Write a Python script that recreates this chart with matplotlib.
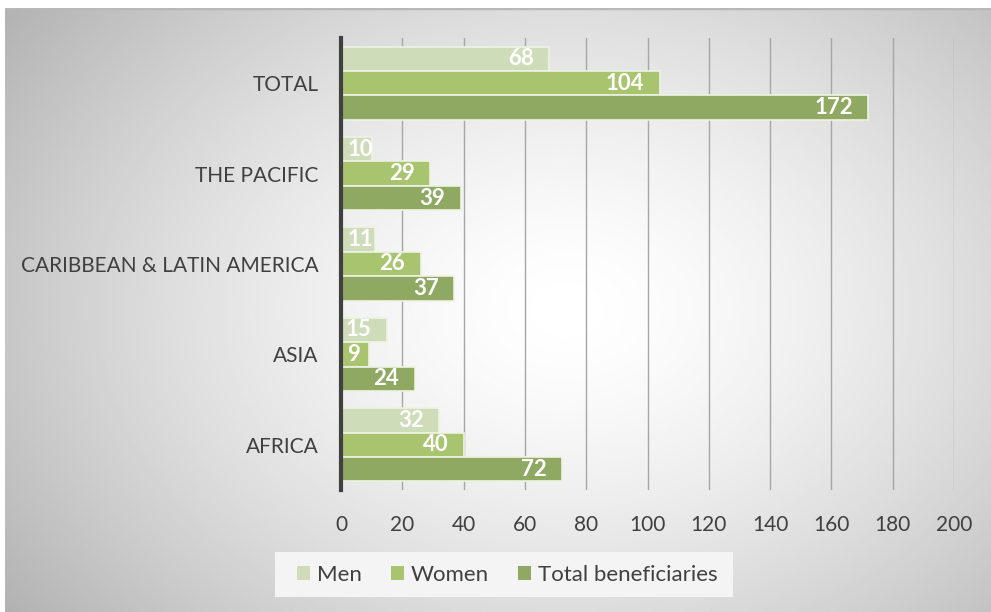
import numpy as np
import matplotlib.pyplot as plt
from matplotlib.patches import Rectangle

regions = ['AFRICA', 'ASIA', 'CARIBBEAN & LATIN AMERICA', 'THE PACIFIC', 'TOTAL']
men = [32, 15, 11, 10, 68]
women = [40, 9, 26, 29, 104]
total = [72, 24, 37, 39, 172]

series = ['Men', 'Women', 'Total beneficiaries']
colors = ['#cfdcb9', '#a9c46e', '#8fa862']
xticks = list(range(0, 201, 20))

plt.rcParams['font.family'] = ['Lato', 'DejaVu Sans']

W, H = 991, 612
fig = plt.figure(figsize=(W / 100, H / 100), dpi=100)
fig.patch.set_facecolor('white')

# soft radial background behind the chart
bg = fig.add_axes([5 / W, 0, 1 - 5 / W, 1 - 8 / H], zorder=-5)
gx, gy = np.meshgrid(np.linspace(0, 1, 400), np.linspace(0, 1, 250))
r = np.sqrt(((gx - 0.57) / 0.62) ** 2 + ((gy - 0.5) / 0.75) ** 2)
shade = 1 - 0.25 * np.clip(r, 0, 1.2) ** 1.5
bg.imshow(shade, cmap='gray', vmin=0, vmax=1, aspect='auto',
          extent=[0, 1, 0, 1], origin='upper')
bg.plot([0, 1], [1, 1], color='#b8b8b8', lw=2.5, transform=bg.transAxes)
bg.set_xlim(0, 1)
bg.set_ylim(0, 1)
bg.axis('off')

ax = fig.add_axes([341 / W, 1 - 490 / H, (954 - 341) / W, (490 - 38) / H])
ax.patch.set_alpha(0)

y = np.arange(len(regions))
h = 0.27
offsets = [h, 0, -h]
for vals, off, col, name in zip([men, women, total], offsets, colors, series):
    bars = ax.barh(y + off, vals, height=h, color=col, edgecolor='#eef3e4',
                   linewidth=1.2, label=name, zorder=3)
    for b, v in zip(bars, vals):
        # short bars: start the label at the base, the bar clips it
        if v < 12:
            tx, ha = 2, 'left'
        else:
            tx, ha = v - 5, 'right'
        t = ax.text(tx, b.get_y() + h / 2, str(v), ha=ha, va='center',
                    color='white', fontsize=16, fontweight='bold', zorder=4)
        t.set_clip_path(b)

ax.set_xlim(0, 200)
ax.set_ylim(-0.5, 4.5)
ax.set_xticks(xticks)
ax.set_yticks(y)
ax.set_yticklabels(regions)
ax.tick_params(axis='both', length=0, labelsize=15, colors='#404040')
ax.tick_params(axis='x', pad=18)
ax.tick_params(axis='y', pad=16)
ax.grid(axis='x', color='#a6a6a6', lw=1.0, zorder=1)
for s in ['top', 'right', 'bottom']:
    ax.spines[s].set_visible(False)
ax.spines['left'].set_color('#404040')
ax.spines['left'].set_linewidth(3)
ax.spines['left'].set_zorder(5)

# legend panel
fig.patches.append(Rectangle((275 / W, 1 - 597 / H), (733 - 275) / W, 45 / H,
                             transform=fig.transFigure, facecolor='#f4f4f4',
                             edgecolor='none', zorder=-1))
leg = fig.legend(loc='center', bbox_to_anchor=(507 / W, 1 - 575 / H), ncol=3,
                 frameon=False, fontsize=16, handlelength=0.6, handleheight=0.6,
                 handletextpad=0.3, columnspacing=1.3, labelcolor='#404040')
for p in leg.get_patches():
    p.set_edgecolor('none')

fig.savefig('out.png', dpi=100)
